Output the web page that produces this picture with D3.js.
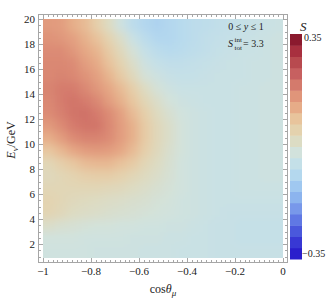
<html>
<head>
<title>Density plot</title>
<style>
body { margin: 0; background: #fff; }
svg text { font-family: "Liberation Serif", "DejaVu Serif", serif; }
</style>
</head>
<body>
<div id="chart"></div>
<script src="https://d3js.org/d3.v7.min.js"></script>
<script>
// cell centres
var cosTheta = [-0.975, -0.925, -0.875, -0.825, -0.775, -0.725, -0.675, -0.625, -0.575, -0.525,
                -0.475, -0.425, -0.375, -0.325, -0.275, -0.225, -0.175, -0.125, -0.075, -0.025];
var energy = [1.5, 2.5, 3.5, 4.5, 5.5, 6.5, 7.5, 8.5, 9.5, 10.5, 11.5, 12.5, 13.5, 14.5, 15.5, 16.5, 17.5, 18.5, 19.5];

// S values, one row per energy (bottom to top), one column per cosTheta
var sValues = [
  [-0.025, -0.025, -0.025, -0.025, -0.03, -0.03, -0.03, -0.03, -0.035, -0.035, -0.035, -0.04, -0.04, -0.04, -0.045, -0.045, -0.045, -0.045, -0.045, -0.045],
  [-0.02, -0.02, -0.02, -0.025, -0.025, -0.025, -0.025, -0.03, -0.03, -0.03, -0.035, -0.035, -0.04, -0.04, -0.045, -0.045, -0.05, -0.05, -0.05, -0.05],
  [0.01, 0.0, -0.005, -0.01, -0.015, -0.015, -0.02, -0.02, -0.025, -0.025, -0.03, -0.03, -0.035, -0.04, -0.045, -0.045, -0.05, -0.05, -0.05, -0.05],
  [0.045, 0.035, 0.02, 0.015, 0.01, 0.005, 0.0, -0.005, -0.01, -0.015, -0.02, -0.025, -0.03, -0.035, -0.04, -0.045, -0.045, -0.045, -0.045, -0.045],
  [0.05, 0.04, 0.03, 0.025, 0.02, 0.015, 0.01, 0.005, 0.0, -0.01, -0.015, -0.025, -0.03, -0.035, -0.04, -0.04, -0.04, -0.04, -0.04, -0.04],
  [0.04, 0.04, 0.04, 0.04, 0.04, 0.035, 0.03, 0.02, 0.01, 0.0, -0.01, -0.02, -0.03, -0.035, -0.04, -0.04, -0.035, -0.035, -0.035, -0.035],
  [0.03, 0.04, 0.05, 0.06, 0.065, 0.065, 0.055, 0.04, 0.025, 0.01, -0.005, -0.02, -0.03, -0.035, -0.04, -0.04, -0.035, -0.035, -0.03, -0.03],
  [0.04, 0.06, 0.08, 0.10, 0.105, 0.105, 0.09, 0.07, 0.04, 0.02, 0.0, -0.02, -0.03, -0.035, -0.04, -0.04, -0.035, -0.035, -0.03, -0.03],
  [0.08, 0.105, 0.13, 0.145, 0.15, 0.145, 0.13, 0.10, 0.06, 0.03, 0.005, -0.015, -0.03, -0.035, -0.04, -0.04, -0.035, -0.035, -0.03, -0.03],
  [0.12, 0.145, 0.17, 0.18, 0.18, 0.17, 0.145, 0.115, 0.07, 0.035, 0.01, -0.015, -0.03, -0.035, -0.04, -0.04, -0.035, -0.035, -0.03, -0.03],
  [0.15, 0.17, 0.19, 0.20, 0.20, 0.175, 0.145, 0.115, 0.07, 0.035, 0.01, -0.015, -0.03, -0.035, -0.04, -0.04, -0.035, -0.035, -0.03, -0.03],
  [0.17, 0.185, 0.20, 0.205, 0.19, 0.17, 0.14, 0.10, 0.06, 0.025, 0.0, -0.02, -0.03, -0.035, -0.04, -0.04, -0.035, -0.035, -0.03, -0.03],
  [0.175, 0.19, 0.20, 0.19, 0.175, 0.145, 0.115, 0.08, 0.04, 0.01, -0.015, -0.03, -0.035, -0.04, -0.04, -0.04, -0.035, -0.035, -0.03, -0.03],
  [0.18, 0.19, 0.19, 0.175, 0.155, 0.13, 0.10, 0.06, 0.02, -0.01, -0.03, -0.04, -0.04, -0.04, -0.04, -0.04, -0.035, -0.035, -0.03, -0.03],
  [0.175, 0.18, 0.175, 0.16, 0.14, 0.11, 0.07, 0.03, -0.01, -0.03, -0.045, -0.05, -0.05, -0.045, -0.04, -0.04, -0.04, -0.035, -0.035, -0.03],
  [0.175, 0.175, 0.17, 0.145, 0.125, 0.09, 0.05, 0.01, -0.03, -0.05, -0.06, -0.06, -0.055, -0.05, -0.045, -0.04, -0.04, -0.035, -0.035, -0.03],
  [0.17, 0.17, 0.155, 0.13, 0.11, 0.07, 0.03, -0.01, -0.05, -0.07, -0.08, -0.075, -0.065, -0.06, -0.05, -0.045, -0.04, -0.04, -0.035, -0.03],
  [0.16, 0.155, 0.14, 0.115, 0.09, 0.05, 0.01, -0.04, -0.07, -0.09, -0.09, -0.08, -0.07, -0.06, -0.055, -0.05, -0.045, -0.04, -0.035, -0.03],
  [0.15, 0.145, 0.12, 0.10, 0.06, 0.02, -0.03, -0.07, -0.09, -0.10, -0.09, -0.08, -0.07, -0.065, -0.06, -0.055, -0.05, -0.045, -0.04, -0.035]
];

var xTicks = [-1, -0.8, -0.6, -0.4, -0.2, 0];
var xTickLabels = ["\u22121", "\u22120.8", "\u22120.6", "\u22120.4", "\u22120.2", "0"];
var yTicks = [2, 4, 6, 8, 10, 12, 14, 16, 18, 20];

// legend bands, from -0.35 (bottom) to 0.35 (top)
var barColors = ["#2a1ecc", "#3838d4", "#4a58dc", "#6078e4", "#7898ea", "#8cb4ee", "#a0c8f0", "#b4d8ee",
                 "#c4e0e8", "#d2e2dc", "#dcdcc4", "#e4d2ae", "#e8c49c", "#e6ac88", "#e0957a", "#d47a6c",
                 "#c76060", "#b84a4f", "#a8303f", "#8b1a2e"];
var sMin = -0.35, sMax = 0.35;
var barLabels = ["0.35", "\u22120.35"];

var width = 332, height = 304;
var frame = {left: 38.5, right: 287.5, top: 14.5, bottom: 262.5};
var frameColor = "#a6a6a6";

var svg = d3.select("#chart").append("svg")
    .attr("width", width).attr("height", height);

var x = d3.scaleLinear().domain([-1, 0]).range([43, 283]);
var y = d3.scaleLinear().domain([0, 20]).range([269, 19]);
var eBottom = 0.88;

var nBands = barColors.length;
var bandStep = (sMax - sMin) / nBands;
var bandCentres = d3.range(nBands).map(function(i) { return sMin + (i + 0.5) * bandStep; });
var color = d3.scaleLinear().domain(bandCentres).range(barColors).clamp(true);

// heat map cells
var defs = svg.append("defs");
defs.append("clipPath").attr("id", "img-clip")
  .append("rect")
    .attr("x", x(-1)).attr("y", y(20))
    .attr("width", x(0) - x(-1)).attr("height", y(eBottom) - y(20));
var blur = defs.append("filter").attr("id", "soft")
    .attr("x", -0.2).attr("y", -0.2).attr("width", 1.4).attr("height", 1.4);
blur.append("feGaussianBlur").attr("stdDeviation", 4);

var cells = [];
sValues.forEach(function(row, r) {
  row.forEach(function(v, c) {
    cells.push({c: c, r: r, cos: cosTheta[c], e: energy[r], s: v});
  });
});

var dx = 0.05, dE = 1, pad = 20;
var img = svg.append("g").attr("clip-path", "url(#img-clip)")
  .append("g").attr("filter", "url(#soft)");

img.selectAll("rect")
  .data(cells)
  .enter()
  .append("rect")
    .attr("x", function(d) { return x(d.cos - dx / 2) - (d.c === 0 ? pad : 0); })
    .attr("width", function(d) {
      return x(d.cos + dx / 2) - x(d.cos - dx / 2) + 0.6 +
        (d.c === 0 ? pad : 0) + (d.c === cosTheta.length - 1 ? pad : 0);
    })
    .attr("y", function(d) { return y(d.e + dE / 2) - (d.r === energy.length - 1 ? pad : 0); })
    .attr("height", function(d) {
      return y(d.e - dE / 2) - y(d.e + dE / 2) + 0.6 +
        (d.r === 0 ? pad : 0) + (d.r === energy.length - 1 ? pad : 0);
    })
    .attr("fill", function(d) { return color(d.s); });

// frame with inward ticks on all sides
var axes = svg.append("g").attr("stroke", frameColor).attr("fill", "none").attr("stroke-width", 1);
axes.append("rect")
  .attr("x", frame.left).attr("y", frame.top)
  .attr("width", frame.right - frame.left).attr("height", frame.bottom - frame.top);

var xMinor = d3.range(-51, 1).map(function(i) { return i * 0.02; })
  .filter(function(v) { return x(v) > frame.left && x(v) < frame.right; });
var yMinor = d3.range(2, 41).map(function(i) { return i * 0.5; })
  .filter(function(v) { return y(v) > frame.top && y(v) < frame.bottom; });

function xTickLines(vals, len) {
  vals.forEach(function(v) {
    var px = Math.round(x(v)) + 0.5;
    axes.append("line").attr("x1", px).attr("x2", px).attr("y1", frame.bottom).attr("y2", frame.bottom - len);
    axes.append("line").attr("x1", px).attr("x2", px).attr("y1", frame.top).attr("y2", frame.top + len);
  });
}
function yTickLines(vals, len) {
  vals.forEach(function(v) {
    var py = Math.round(y(v)) + 0.5;
    axes.append("line").attr("y1", py).attr("y2", py).attr("x1", frame.left).attr("x2", frame.left + len);
    axes.append("line").attr("y1", py).attr("y2", py).attr("x1", frame.right).attr("x2", frame.right - len);
  });
}
xTickLines(xMinor, 2.5);
xTickLines(xTicks, 4.5);
yTickLines(yMinor, 2.5);
yTickLines(yTicks, 4.5);

// tick labels
svg.append("g").selectAll("text")
  .data(xTicks)
  .enter()
  .append("text")
    .attr("x", function(d) { return x(d); })
    .attr("y", 275)
    .attr("text-anchor", "middle")
    .style("font-size", "11px")
    .attr("fill", "#222")
    .text(function(d, i) { return xTickLabels[i]; });

svg.append("g").selectAll("text")
  .data(yTicks)
  .enter()
  .append("text")
    .attr("x", 35)
    .attr("y", function(d) { return y(d) + 3.8; })
    .attr("text-anchor", "end")
    .style("font-size", "11px")
    .attr("fill", "#222")
    .text(function(d) { return d; });

// axis titles
var xt = svg.append("text")
  .attr("x", 163).attr("y", 293)
  .attr("text-anchor", "middle")
  .style("font-size", "12px")
  .attr("fill", "#222");
xt.append("tspan").text("cos");
xt.append("tspan").style("font-style", "italic").text("\u03b8");
xt.append("tspan").style("font-style", "italic").style("font-size", "9px").attr("dy", 3).text("\u03bc");

var yt = svg.append("text")
  .attr("transform", "translate(15,140) rotate(-90)")
  .attr("text-anchor", "middle")
  .style("font-size", "12px")
  .attr("fill", "#222");
yt.append("tspan").style("font-style", "italic").text("E");
yt.append("tspan").style("font-style", "italic").style("font-size", "9px").attr("dy", 3).text("\u03bd");
yt.append("tspan").attr("dy", -3).text("/GeV");

// annotations
var a1 = svg.append("text")
  .attr("x", 246).attr("y", 30)
  .attr("text-anchor", "middle")
  .style("font-size", "10px")
  .attr("fill", "#222");
a1.append("tspan").text("0 \u2264 ");
a1.append("tspan").style("font-style", "italic").text("y");
a1.append("tspan").text(" \u2264 1");

var ann = svg.append("g").attr("fill", "#222");
ann.append("text").attr("x", 228).attr("y", 47).style("font-size", "10px").style("font-style", "italic").text("S");
ann.append("text").attr("x", 234.5).attr("y", 41.5).style("font-size", "7px").text("int");
ann.append("text").attr("x", 234.5).attr("y", 49.5).style("font-size", "7px").text("tot");
ann.append("text").attr("x", 243).attr("y", 47).style("font-size", "10px").text("= 3.3");

// legend bar
var yBar = d3.scaleLinear().domain([sMin, sMax]).range([259, 34]);
svg.append("g").selectAll("rect")
  .data(barColors)
  .enter()
  .append("rect")
    .attr("x", 290)
    .attr("width", 12)
    .attr("y", function(d, i) { return yBar(sMin + (i + 1) * bandStep); })
    .attr("height", function(d, i) { return yBar(sMin + i * bandStep) - yBar(sMin + (i + 1) * bandStep) + 0.5; })
    .attr("fill", function(d) { return d; });

svg.append("text")
  .attr("x", 300).attr("y", 31)
  .style("font-size", "13px").style("font-style", "italic")
  .attr("fill", "#222")
  .text("S");
svg.append("text")
  .attr("x", 304).attr("y", yBar(sMax) + 7)
  .style("font-size", "10px")
  .attr("fill", "#222")
  .text(barLabels[0]);
svg.append("text")
  .attr("x", 302).attr("y", yBar(sMin) - 2)
  .style("font-size", "10px")
  .attr("fill", "#222")
  .text(barLabels[1]);
</script>
</body>
</html>
